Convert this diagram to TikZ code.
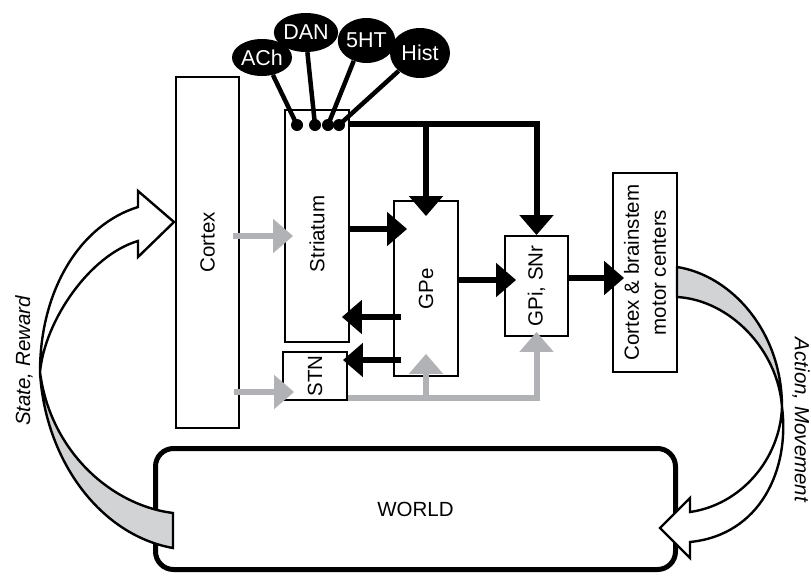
\documentclass[tikz,border=0pt]{standalone}
\usepackage{fontspec}
\setmainfont{Liberation Sans}
\usetikzlibrary{arrows.meta,shapes.geometric,calc}
\definecolor{arrgray}{RGB}{176,178,181}
\definecolor{ribgray}{RGB}{210,211,213}
\begin{document}
\begin{tikzpicture}[x=1pt,y=-1pt,
  font=\fontsize{20.5}{24}\selectfont,
  box/.style={draw, line width=1.8pt, fill=white, inner sep=0pt},
  blk/.style={line width=6pt, -{Triangle[length=20pt,width=33pt]}},
  gry/.style={color=arrgray, line width=6pt, -{Triangle[length=20pt,width=33pt]}},
  ell/.style={ellipse, fill=black, text=white, inner sep=0pt, font=\fontsize{21.5}{24}\selectfont},
  dotn/.style={circle, fill=black, minimum size=12pt, inner sep=0pt},
  modl/.style={line width=4.5pt},
  rib/.style={line width=2.4pt, line join=miter},
  vlab/.style={rotate=90}]
\useasboundingbox (0,0) rectangle (811,584);

% boxes
\node[box, minimum width=63pt, minimum height=351pt, label={[shift={(0,-10)}, vlab]center:Cortex}] (cortex) at (207.5,252.5) {};
\node[box, minimum width=64pt, minimum height=232pt, label={[shift={(0,8)}, vlab]center:Striatum}] (striatum) at (317,226) {};
\node[box, minimum width=64pt, minimum height=48pt, label={[vlab]center:STN}] (stn) at (315,376) {};
\node[box, minimum width=64pt, minimum height=175pt, label={[vlab]center:GPe}] (gpe) at (426,288.5) {};
\node[box, minimum width=63pt, minimum height=100pt, label={[vlab]center:{GPi, SNr}}] (gpi) at (536.5,286) {};
\node[box, minimum width=64pt, minimum height=199pt, label={[vlab, align=center, font=\fontsize{20.5}{27}\selectfont]center:{Cortex \& brainstem\\motor centers}}] (motor) at (645,272.5) {};
\node[draw, line width=5pt, rounded corners=18pt, fill=white, minimum width=520pt, minimum height=121pt] (world) at (415.5,509) {WORLD};

% modulators
\node[dotn] (d1) at (297,125) {};
\node[dotn] (d2) at (315,125) {};
\node[dotn] (d3) at (328,125) {};
\node[dotn] (d4) at (339,125) {};
\node[ell, minimum width=60pt, minimum height=37pt] (ach) at (262,57.5) {ACh};
\node[ell, minimum width=62pt, minimum height=39pt] (dan) at (306,32.5) {DAN};
\node[ell, minimum width=57pt, minimum height=45pt] (sht) at (366.5,40.5) {5HT};
\node[ell, minimum width=60pt, minimum height=50pt] (hist) at (420,53) {Hist};
\draw[modl] (ach.-58) -- (d1.center);
\draw[modl] (dan.-86) -- (d2.center);
\draw[modl] (sht.-122) -- (d3.center);
\draw[modl] (hist.-140) -- (d4.center);

% black projections
\draw[blk] (striatum.east |- 0,124) -| (gpi.north);
\draw[blk] (gpe.north |- 0,124) -- ($(gpe.north)+(0,16)$);
\draw[blk] (striatum.east |- 0,229) -- ($(gpe.west |- 0,229)+(14,0)$);
\draw[blk] ($(gpe.west |- 0,317)+(8,0)$) -- ($(striatum.east |- 0,317)+(-8,0)$);
\draw[blk] ($(gpe.west |- 0,360)+(8,0)$) -- ($(stn.east |- 0,360)+(-5,0)$);
\draw[blk] (gpe.east |- 0,280) -- ($(gpi.west |- 0,280)+(12,0)$);
\draw[blk] (gpi.east |- 0,278) -- ($(motor.west |- 0,278)+(12,0)$);

% gray projections
\draw[gry] ($(cortex.east |- 0,236)+(-7,0)$) -- ($(striatum.west |- 0,236)+(9,0)$);
\draw[gry] ($(cortex.east |- 0,392)+(-6,0)$) -- ($(stn.west |- 0,392)+(12,0)$);
\draw[gry] (stn.east |- 0,398) -| ($(gpi.south)+(0,-5)$);
\draw[gry] (gpe.south |- 0,398) -- ($(gpe.south)+(0,-23)$);

% State, Reward ribbon
\filldraw[rib, fill=ribgray] (173,513) -- (173,548) .. controls (100,535) and (45,460) .. (40,372)
  .. controls (50,450) and (110,505) .. (173,513) -- cycle;
\filldraw[rib, fill=white] (40,372) .. controls (40,290) and (80,225) .. (138,207) -- (138,191) -- (174,222)
  -- (138,257) -- (138,241) .. controls (90,255) and (45,320) .. (40,372) -- cycle;

% Action, Movement ribbon
\filldraw[rib, fill=ribgray] (677,267) .. controls (730,275) and (782,330) .. (782,407)
  .. controls (778,350) and (730,300) .. (677,297) -- cycle;
\filldraw[rib, fill=white] (782,407) .. controls (780,460) and (740,505) .. (690,512) -- (690,498) -- (660,528)
  -- (690,558) -- (690,542) .. controls (760,535) and (790,470) .. (782,407) -- cycle;

\node[rotate=90, font=\fontsize{20.5}{24}\selectfont\itshape] (sr) at (24,361) {State, Reward};
\node[rotate=-90, font=\fontsize{20.5}{24}\selectfont\itshape] (am) at (801,420) {Action, Movement};
\end{tikzpicture}
\end{document}
